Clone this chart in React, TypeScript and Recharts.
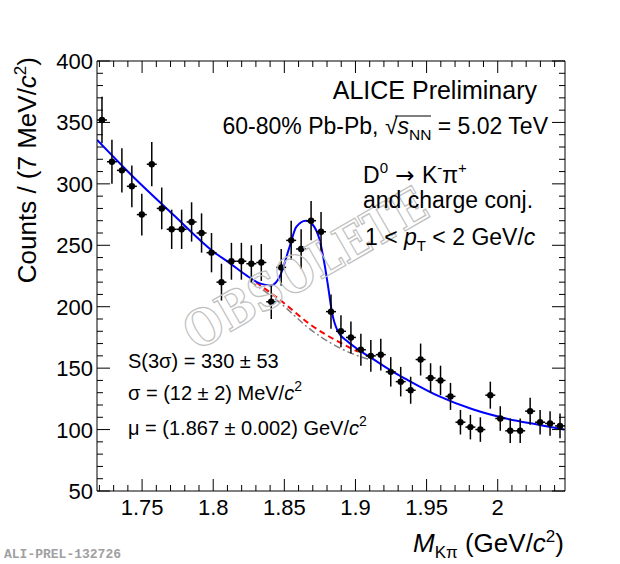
import { ComposedChart, Scatter, Line, XAxis, YAxis, ErrorBar } from 'recharts';

// D0 -> K-pi+ invariant mass, 60-80% Pb-Pb, 1 < pT < 2 GeV/c
const binCenters = [
  1.7218, 1.7288, 1.7358, 1.7428, 1.7498, 1.7568, 1.7638, 1.7708, 1.7778, 1.7848,
  1.7918, 1.7988, 1.8058, 1.8128, 1.8198, 1.8268, 1.8338, 1.8408, 1.8478, 1.8548,
  1.8618, 1.8688, 1.8758, 1.8828, 1.8898, 1.8968, 1.9038, 1.9108, 1.9178, 1.9248,
  1.9318, 1.9388, 1.9458, 1.9528, 1.9598, 1.9668, 1.9738, 1.9808, 1.9878, 1.9948,
  2.0018, 2.0088, 2.0158, 2.0228, 2.0298, 2.0368, 2.0438,
];
const counts = [
  352, 318, 311, 298, 275, 316, 280, 263, 263, 269,
  260, 244, 220, 237, 237, 235, 236, 204, 232, 254,
  247, 270, 261, 196, 180, 175, 165, 160, 161, 147,
  139, 132, 157, 142, 140, 127, 106, 102, 100, 128,
  109, 99, 99, 115, 106, 105, 103,
];
const countErrors = [
  19, 18, 18, 17, 17, 18, 17, 16, 16, 16,
  16, 16, 15, 15, 15, 15, 15, 14, 15, 16,
  16, 16, 16, 14, 13, 13, 13, 13, 13, 12,
  12, 11, 13, 12, 12, 11, 10, 10, 10, 11,
  10, 10, 10, 11, 10, 10, 10,
];
const halfBin = 0.0035;

// total fit (blue)
const fitX = [
  1.7184, 1.7426, 1.7718, 1.7999, 1.8116, 1.8233, 1.8327, 1.8405, 1.8467, 1.8537,
  1.8584, 1.865, 1.8701, 1.8748, 1.8785, 1.8806, 1.8834, 1.8876, 1.8947, 1.9041,
  1.9122, 1.9249, 1.9357, 1.959, 1.9824, 2.0059, 2.0293, 2.0468,
];
const fitY = [
  335.7, 307, 275, 245, 235.5, 225.5, 219, 217.3, 224.4, 248.8,
  265, 270, 266.5, 254.3, 233, 217.7, 196, 180, 171.5, 163.5,
  157.5, 148, 141, 127, 116.5, 109, 103.8, 100,
];
// background fit in the signal region (red dashed)
const bkgX = [1.8301, 1.8455, 1.8689, 1.9017];
const bkgY = [219.9, 206.8, 185, 163.4];
// background incl. reflections (grey dash-dot)
const reflX = [1.8262, 1.8455, 1.8689, 1.8973, 1.9099];
const reflY = [220.5, 204.6, 181, 162, 157];

const xDomain = [1.7183, 2.0473];
const yDomain = [50, 400];
const xMajor = [1.75, 1.8, 1.85, 1.9, 1.95, 2];
const xTickLabels = ['1.75', '1.8', '1.85', '1.9', '1.95', '2'];
const xMinor = [
  1.72, 1.73, 1.74, 1.76, 1.77, 1.78, 1.79, 1.81, 1.82, 1.83, 1.84, 1.86, 1.87,
  1.88, 1.89, 1.91, 1.92, 1.93, 1.94, 1.96, 1.97, 1.98, 1.99, 2.01, 2.02, 2.03, 2.04,
];
const yMajor = [50, 100, 150, 200, 250, 300, 350, 400];
const yTickLabels = ['50', '100', '150', '200', '250', '300', '350', '400'];
const yMinor = [
  60, 70, 80, 90, 110, 120, 130, 140, 160, 170, 180, 190, 210, 220, 230, 240,
  260, 270, 280, 290, 310, 320, 330, 340, 360, 370, 380, 390,
];

const points = binCenters.map((x, i) => ({ x, y: counts[i], ey: countErrors[i], ex: halfBin }));
const fitData = fitX.map((x, i) => ({ x, y: fitY[i] }));
const bkgData = bkgX.map((x, i) => ({ x, y: bkgY[i] }));
const reflData = reflX.map((x, i) => ({ x, y: reflY[i] }));

const xTicks = [...xMajor, ...xMinor].sort((a, b) => a - b);
const yTicks = [...yMajor, ...yMinor].sort((a, b) => a - b);

const font = '"Liberation Sans", Arial, Helvetica, sans-serif';

const majorIndex = (v: number, list: number[]) => list.findIndex((m) => Math.abs(m - v) < 1e-6);

function xTick(props: any, side: 'bottom' | 'top') {
  const { x, y, payload } = props;
  const idx = majorIndex(payload.value, xMajor);
  const len = idx >= 0 ? 12 : 6;
  const dir = side === 'bottom' ? -1 : 1;
  return (
    <g>
      <line x1={x} y1={y} x2={x} y2={y + dir * len} stroke="#000" strokeWidth={1} />
      {side === 'bottom' && idx >= 0 && (
        <text x={x} y={y + 24} textAnchor="middle" fontSize={22} fontFamily={font} fill="#000">
          {xTickLabels[idx]}
        </text>
      )}
    </g>
  );
}

function yTick(props: any, side: 'left' | 'right') {
  const { x, y, payload } = props;
  const idx = majorIndex(payload.value, yMajor);
  const len = idx >= 0 ? 13 : 6;
  const dir = side === 'left' ? 1 : -1;
  return (
    <g>
      <line x1={x} y1={y} x2={x + dir * len} y2={y} stroke="#000" strokeWidth={1} />
      {side === 'left' && idx >= 0 && (
        <text x={x - 4} y={y + 8} textAnchor="end" fontSize={22} fontFamily={font} fill="#000">
          {yTickLabels[idx]}
        </text>
      )}
    </g>
  );
}

const dotShape = (p: any) => <circle cx={p.cx} cy={p.cy} r={3.2} fill="#000" />;

export default function App() {
  return (
    <div style={{ position: 'absolute', left: 0, top: 0, width: 620, height: 564, background: '#fff' }}>
      <ComposedChart width={620} height={564} margin={{ top: 60, right: 54, bottom: 72, left: 96 }}>
        <XAxis
          dataKey="x" type="number" domain={xDomain} ticks={xTicks} allowDataOverflow
          height={1} tickSize={0} tickMargin={0} interval={0}
          tick={(p: any) => xTick(p, 'bottom')} axisLine={{ stroke: '#000' }} tickLine={false}
        />
        <XAxis
          xAxisId="top" orientation="top" dataKey="x" type="number" domain={xDomain} ticks={xTicks}
          allowDataOverflow height={1} tickSize={0} tickMargin={0} interval={0}
          tick={(p: any) => xTick(p, 'top')} axisLine={{ stroke: '#000' }} tickLine={false}
        />
        <YAxis
          type="number" domain={yDomain} ticks={yTicks} allowDataOverflow width={1}
          tickSize={0} tickMargin={0} interval={0}
          tick={(p: any) => yTick(p, 'left')} axisLine={{ stroke: '#000' }} tickLine={false}
        />
        <YAxis
          yAxisId="right" orientation="right" type="number" domain={yDomain} ticks={yTicks}
          allowDataOverflow width={1} tickSize={0} tickMargin={0} interval={0}
          tick={(p: any) => yTick(p, 'right')} axisLine={{ stroke: '#000' }} tickLine={false}
        />
        <Line
          data={reflData} dataKey="y" type="monotone" stroke="#7f7f7f" strokeWidth={1.5}
          strokeDasharray="7 3 2 3" dot={false} isAnimationActive={false}
        />
        <Line
          data={bkgData} dataKey="y" type="monotone" stroke="#ff0000" strokeWidth={2}
          strokeDasharray="6 4" dot={false} isAnimationActive={false}
        />
        <Line
          data={fitData} dataKey="y" type="monotone" stroke="#0000ff" strokeWidth={2}
          dot={false} isAnimationActive={false}
        />
        <Scatter data={points} dataKey="y" shape={dotShape} isAnimationActive={false}>
          <ErrorBar dataKey="ey" direction="y" width={0} stroke="#000" strokeWidth={1.5} isAnimationActive={false} />
          <ErrorBar dataKey="ex" direction="x" width={0} stroke="#000" strokeWidth={1.5} isAnimationActive={false} />
        </Scatter>
      </ComposedChart>

      <svg width={620} height={564} style={{ position: 'absolute', left: 0, top: 0, pointerEvents: 'none' }}>
        <g transform="translate(305 268) rotate(-30)">
          <text
            x={0} y={18} textAnchor="middle" fontSize={50} fontWeight="bold"
            fontFamily='"DejaVu Serif", serif' fill="none" stroke="#c0c0c0" strokeWidth={1.3}
            textLength={272} lengthAdjust="spacingAndGlyphs"
          >
            OBSOLETE
          </text>
        </g>

        <g fontFamily={font} fill="#000">
          <text x={537} y={99} textAnchor="end" fontSize={25}>ALICE Preliminary</text>
          <text x={548} y={134} textAnchor="end" fontSize={23}>
            60-80% Pb-Pb, √<tspan fontStyle="italic">s</tspan>
            <tspan dy={6} fontSize={15.5}>NN</tspan>
            <tspan dy={-6}> = 5.02 TeV</tspan>
          </text>
          <line x1={395} y1={116} x2={431} y2={116} stroke="#000" strokeWidth={1.2} />

          <text x={363} y={183} fontSize={23}>
            D<tspan dy={-10} fontSize={15}>0</tspan>
            <tspan dy={10} fontFamily='"DejaVu Sans", sans-serif'>{'\u00a0\u2192\u00a0'}</tspan>
            <tspan>K</tspan>
            <tspan dy={-10} fontSize={15}>-</tspan>
            <tspan dy={10}>π</tspan>
            <tspan dy={-10} fontSize={15}>+</tspan>
          </text>
          <text x={363} y={208} fontSize={23}>and charge conj.</text>
          <text x={365} y={245} fontSize={23}>
            1 &lt; <tspan fontStyle="italic">p</tspan>
            <tspan dy={6} fontSize={15}>T</tspan>
            <tspan dy={-6}> &lt; 2 GeV/</tspan>
            <tspan fontStyle="italic">c</tspan>
          </text>

          <text x={128} y={368} fontSize={20}>S(3σ) = 330 ± 53</text>
          <text x={128} y={400} fontSize={20}>
            σ = (12 ± 2) MeV/<tspan fontStyle="italic">c</tspan>
            <tspan dy={-9} fontSize={14}>2</tspan>
          </text>
          <text x={128} y={435} fontSize={20}>
            μ = (1.867 ± 0.002) GeV/<tspan fontStyle="italic">c</tspan>
            <tspan dy={-9} fontSize={14}>2</tspan>
          </text>

          <text x={36} y={57} textAnchor="end" fontSize={26} transform="rotate(-90 36 57)">
            Counts / (7 MeV/<tspan fontStyle="italic">c</tspan>
            <tspan dy={-10} fontSize={17}>2</tspan>
            <tspan dy={10}>)</tspan>
          </text>
          <text x={564} y={552} textAnchor="end" fontSize={26}>
            <tspan fontStyle="italic">M</tspan>
            <tspan dy={6} fontSize={17}>Kπ</tspan>
            <tspan dy={-6}> (GeV/</tspan>
            <tspan fontStyle="italic">c</tspan>
            <tspan dy={-10} fontSize={17}>2</tspan>
            <tspan dy={10}>)</tspan>
          </text>
        </g>

        <text x={4} y={558} fontSize={13} fontWeight="bold" fontFamily='"Liberation Mono", monospace' fill="#a0a0a0">
          ALI-PREL-132726
        </text>
      </svg>
    </div>
  );
}
